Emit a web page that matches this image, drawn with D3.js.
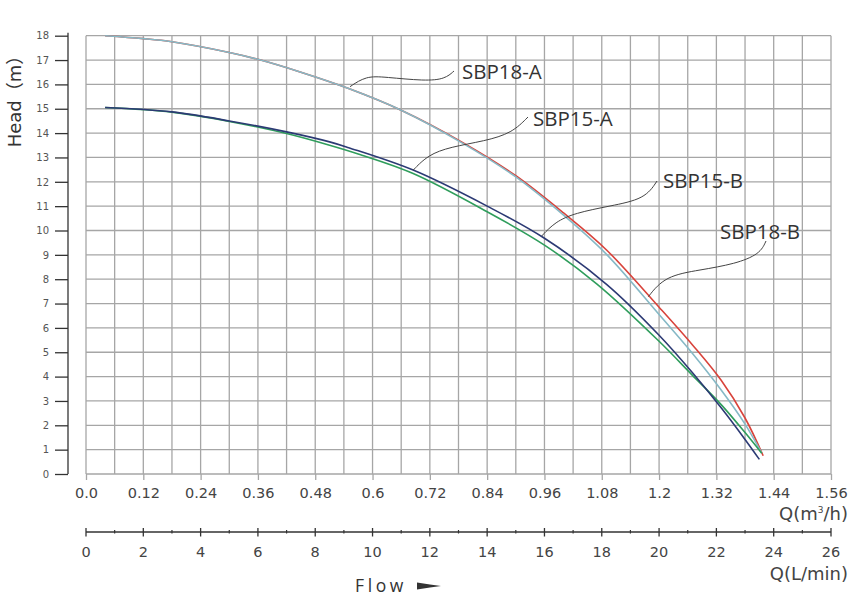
<!DOCTYPE html>
<html>
<head>
<meta charset="utf-8">
<script src="https://cdn.jsdelivr.net/npm/d3@7"></script>
<style>
  html, body { margin: 0; padding: 0; background: #fff; }
  svg { display: block; }
</style>
</head>
<body>
<svg id="chart" width="855" height="603"></svg>
<script>
// ---------- data ----------
const headTicks = [0,1,2,3,4,5,6,7,8,9,10,11,12,13,14,15,16,17,18];
const flowM3Labels = ["0.0","0.12","0.24","0.36","0.48","0.6","0.72","0.84","0.96","1.08","1.2","1.32","1.44","1.56"];
const flowLMinLabels = ["0","2","4","6","8","10","12","14","16","18","20","22","24","26"];
const flowLMinMinor = [1,3,5,7,9,11,13,15,17,19,21,23,25];
const gridQ = [0,0.06,0.12,0.18,0.24,0.30,0.36,0.42,0.48,0.54,0.60,0.66,0.72,0.78,0.84,0.90,0.96,1.02,1.08,1.14,1.20,1.26,1.32,1.38,1.44,1.50,1.56];

const seriesNames = ["SBP18-B", "SBP18-A", "SBP15-B", "SBP15-A"];

const q18B = [0.04, 0.12, 0.18, 0.30, 0.36, 0.45, 0.55, 0.66, 0.79, 0.90, 1.00, 1.09, 1.20, 1.27, 1.33, 1.38, 1.418];
const h18B = [18.0, 17.88, 17.75, 17.31, 17.03, 16.5, 15.83, 14.94, 13.6, 12.25, 10.72, 9.2, 6.85, 5.3, 3.85, 2.3, 0.75];

const q18A = [0.04, 0.12, 0.18, 0.30, 0.36, 0.45, 0.55, 0.66, 0.79, 0.90, 1.00, 1.09, 1.20, 1.27, 1.33, 1.38, 1.415];
const h18A = [18.0, 17.88, 17.75, 17.31, 17.03, 16.5, 15.83, 14.94, 13.57, 12.2, 10.63, 9.02, 6.55, 4.95, 3.45, 2.05, 0.86];

const q15B = [0.04, 0.18, 0.30, 0.42, 0.51, 0.57, 0.685, 0.84, 0.96, 1.07, 1.20, 1.27, 1.33, 1.38, 1.415];
const h15B = [15.05, 14.86, 14.48, 13.98, 13.5, 13.14, 12.34, 10.77, 9.4, 7.8, 5.45, 4.05, 2.85, 1.7, 0.85];

const q15A = [0.04, 0.18, 0.30, 0.42, 0.51, 0.55, 0.685, 0.84, 0.96, 1.09, 1.20, 1.27, 1.33, 1.38, 1.41];
const h15A = [15.05, 14.87, 14.5, 14.05, 13.64, 13.4, 12.48, 11.0, 9.68, 7.79, 5.7, 4.16, 2.72, 1.42, 0.6];

// ---------- styles ----------
const colors = { "SBP18-B": "#d8433b", "SBP18-A": "#86b9c6", "SBP15-B": "#2f9d5c", "SBP15-A": "#2c3a74" };

const svg = d3.select("#chart");
svg.append("rect").attr("width", 855).attr("height", 603).attr("fill", "#fff");

const x = d3.scaleLinear().domain([0, 1.56]).range([86, 831]);
const xL = d3.scaleLinear().domain([0, 26]).range([86, 831]);
const y = d3.scaleLinear().domain([0, 18]).range([474, 35.7]);

// ---------- grid ----------
const grid = svg.append("g").attr("stroke", "#a6a6a6").attr("stroke-width", 1.3);
grid.selectAll("line.v").data(gridQ).join("line")
  .attr("x1", d => x(d)).attr("x2", d => x(d))
  .attr("y1", y(18)).attr("y2", y(0));
grid.selectAll("line.h").data(headTicks).join("line")
  .attr("x1", x(0)).attr("x2", x(1.56))
  .attr("y1", d => y(d)).attr("y2", d => y(d));

// ---------- y axis ----------
const yAxis = d3.axisLeft(y).tickValues(headTicks).tickSizeInner(13).tickSizeOuter(0).tickPadding(6);
const gy = svg.append("g").attr("transform", "translate(68,0)").call(yAxis);
gy.select(".domain").attr("stroke", "#333").attr("stroke-width", 1.3).attr("d", `M0,${y(18) - 3}V${y(0)}`);
gy.selectAll(".tick line").attr("stroke", "#333").attr("stroke-width", 1.3);
gy.selectAll(".tick text").attr("fill", "#555").attr("font-size", "10px").attr("font-family", "DejaVu Sans");

svg.append("text")
  .attr("transform", "translate(21,97) rotate(-90)")
  .attr("text-anchor", "middle")
  .attr("font-family", "'DejaVu Sans', 'Noto Sans CJK SC'")
  .attr("font-size", "18px")
  .attr("fill", "#333")
  .text("Head（m）");

// ---------- x axis (m3/h) ----------
const m3Vals = flowM3Labels.map(Number);
const xAxis = d3.axisBottom(x).tickValues(m3Vals).tickFormat((d, i) => flowM3Labels[i]).tickSizeInner(6).tickSizeOuter(0).tickPadding(8);
const gx = svg.append("g").attr("transform", `translate(0,${y(0)})`).call(xAxis);
gx.select(".domain").remove();
gx.selectAll(".tick line").attr("stroke", "#a6a6a6").attr("stroke-width", 1.3);
gx.selectAll(".tick text").attr("fill", "#444").attr("font-size", "14.5px").attr("font-family", "DejaVu Sans");

svg.append("text").attr("x", 848).attr("y", 520).attr("text-anchor", "end")
  .attr("font-family", "DejaVu Sans").attr("font-size", "18px").attr("fill", "#444")
  .html("Q(m<tspan font-size='9px' dy='-7'>3</tspan><tspan dy='7'>/h)</tspan>");

// ---------- x axis (L/min) ----------
const lVals = flowLMinLabels.map(Number);
const gL = svg.append("g").attr("transform", "translate(0,532)");
gL.append("line").attr("x1", xL(0)).attr("x2", xL(26)).attr("y1", 0).attr("y2", 0)
  .attr("stroke", "#333").attr("stroke-width", 1.3);
gL.selectAll("line.maj").data(lVals).join("line").attr("class", "maj")
  .attr("x1", d => xL(d)).attr("x2", d => xL(d)).attr("y1", -4).attr("y2", 4.5)
  .attr("stroke", "#333").attr("stroke-width", 1.3);
gL.selectAll("line.min").data(flowLMinMinor).join("line").attr("class", "min")
  .attr("x1", d => xL(d)).attr("x2", d => xL(d)).attr("y1", -2).attr("y2", 1.5)
  .attr("stroke", "#333").attr("stroke-width", 1.2);
gL.selectAll("text").data(lVals).join("text")
  .attr("x", d => xL(d)).attr("y", 25)
  .attr("text-anchor", "middle").attr("font-family", "DejaVu Sans").attr("font-size", "14.5px").attr("fill", "#444")
  .text((d, i) => flowLMinLabels[i]);

svg.append("text").attr("x", 848).attr("y", 580).attr("text-anchor", "end")
  .attr("font-family", "DejaVu Sans").attr("font-size", "18px").attr("fill", "#444")
  .text("Q(L/min)");

// Flow label with arrow
svg.append("text").attr("x", 355).attr("y", 591.5)
  .attr("font-family", "'Open Sans'").attr("font-size", "17.5px").attr("fill", "#333")
  .attr("letter-spacing", "3.6px")
  .text("Flow");
svg.append("path").attr("d", "M417,582.6 L430,584.6 L441,586 L430,587.4 L417,589.4 Z").attr("fill", "#333");

// ---------- curves ----------
const line = d3.line().x(d => x(d[0])).y(d => y(d[1])).curve(d3.curveCatmullRom.alpha(0.5));
const seriesData = {
  "SBP18-B": d3.zip(q18B, h18B),
  "SBP18-A": d3.zip(q18A, h18A),
  "SBP15-B": d3.zip(q15B, h15B),
  "SBP15-A": d3.zip(q15A, h15A)
};
seriesNames.forEach(name => {
  svg.append("path").datum(seriesData[name])
    .attr("d", line)
    .attr("fill", "none")
    .attr("stroke", colors[name])
    .attr("stroke-width", 1.6);
});

// ---------- labels with leader lines ----------
const labelTexts = ["SBP18-B", "SBP18-A", "SBP15-B", "SBP15-A"];
const labelTextX = [720, 462, 663, 533];
const labelTextY = [238.5, 79, 188, 125.5];
const leaders = [
  [[648.3, 296.7], [665, 276], [700, 270], [735, 264], [760, 254], [766, 241]],
  [[350, 86.7], [366, 76], [385, 77], [425, 81], [445, 79], [454, 71]],
  [[541.7, 236], [555, 222], [575, 213], [610, 206], [645, 199], [657, 181]],
  [[413.3, 170], [428, 155], [450, 147], [485, 141], [512, 133], [528, 117]]
];
const leaderLine = d3.line().curve(d3.curveBasis);
leaders.forEach(pts => {
  svg.append("path").attr("d", leaderLine(pts)).attr("fill", "none")
    .attr("stroke", "#444").attr("stroke-width", 1);
});
labelTexts.forEach((t, i) => {
  svg.append("text").attr("x", labelTextX[i]).attr("y", labelTextY[i])
    .attr("font-family", "'Open Sans'").attr("font-size", "20.5px").attr("fill", "#333")
    .text(t);
});
</script>
</body>
</html>
